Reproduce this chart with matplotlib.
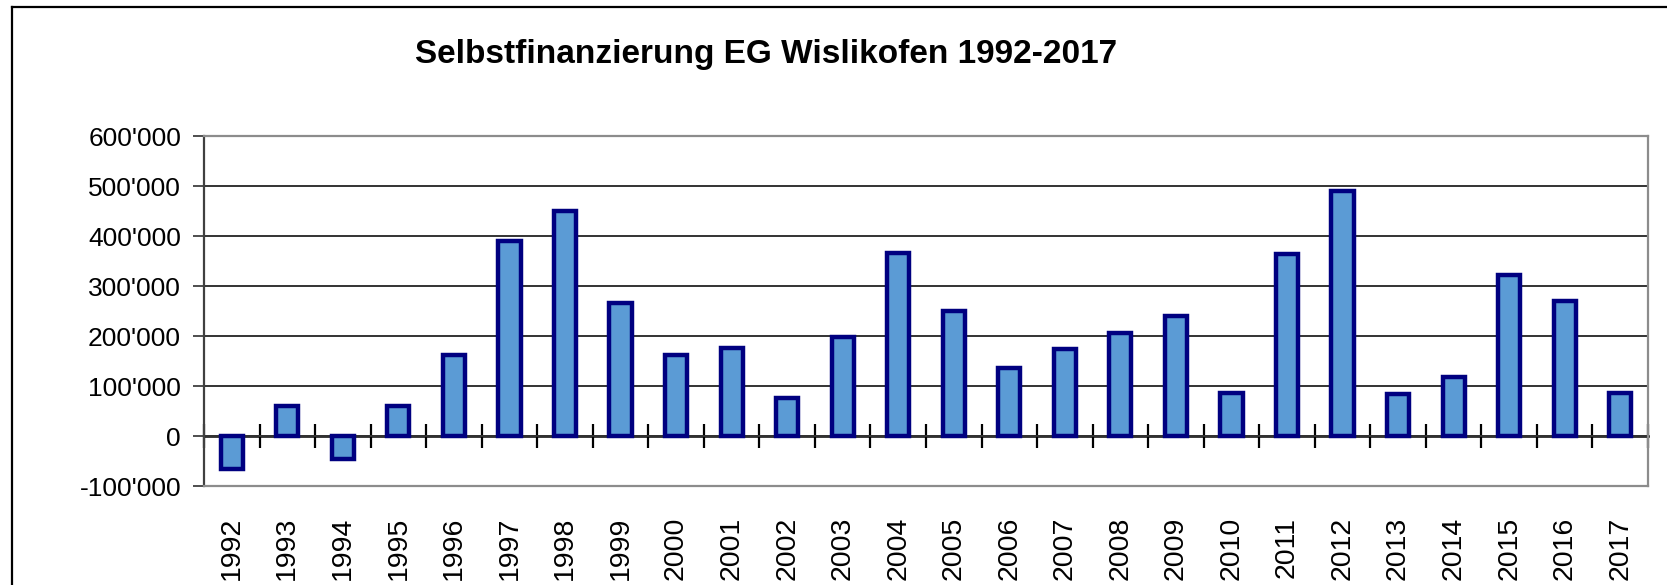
import numpy as np
import matplotlib
matplotlib.use("Agg")
from matplotlib import pyplot as plt
from matplotlib.ticker import FuncFormatter, FixedLocator
from matplotlib.lines import Line2D

plt.rcParams['font.family'] = ['Liberation Sans', 'DejaVu Sans']

years = [str(y) for y in range(1992, 2018)]
values = [-65000, 61000, -45000, 61000, 162000, 391000, 450000, 266000, 162000,
          177000, 77000, 199000, 367000, 250000, 136000, 175000, 206000, 240000,
          86000, 364000, 490000, 84000, 118000, 323000, 270000, 86000]
y_ticks = [-100000, 0, 100000, 200000, 300000, 400000, 500000, 600000]
title = "Selbstfinanzierung EG Wislikofen 1992-2017"

W, H = 1667, 585
fig = plt.figure(figsize=(W / 100, H / 100), dpi=100)
ax = fig.add_axes([204 / W, 1 - 486 / H, (1648 - 204) / W, (486 - 136) / H])

x = np.arange(len(years))
ax.bar(x, values, width=0.4, color="#5b9bd5", edgecolor="#000080",
       linewidth=3.2, zorder=3)

ymin, ymax = y_ticks[0], y_ticks[-1]
ax.set_xlim(-0.5, len(years) - 0.5)
ax.set_ylim(ymin, ymax)

# gridlines
ax.set_yticks(y_ticks)
ax.yaxis.grid(True, color="#333333", linewidth=1.4)
ax.set_axisbelow(True)
ax.yaxis.set_major_formatter(FuncFormatter(lambda v, p: f"{v:,.0f}".replace(",", "'")))
ax.tick_params(axis="y", direction="out", length=8, width=1.3, color="#404040",
               labelsize=19, pad=8.5)

# year labels below the frame
ax.set_xticks(x)
ax.set_xticklabels(years, rotation=90, fontsize=20.5)
ax.tick_params(axis="x", length=0, pad=22)

for side in ["top", "right", "bottom"]:
    ax.spines[side].set_color("#8c8c8c")
    ax.spines[side].set_linewidth(1.6)
ax.spines["left"].set_color("#404040")
ax.spines["left"].set_linewidth(1.6)

# zero axis with category tick marks
zero_loc = (0 - ymin) / (ymax - ymin)
sec = ax.secondary_xaxis(zero_loc)
sec.xaxis.set_major_locator(FixedLocator(np.arange(-0.5, len(years), 1.0)))
sec.tick_params(axis="x", direction="inout", length=17, width=1.6, color="black",
                labelbottom=False, labeltop=False, top=False, bottom=True)
sec.spines["bottom"].set_color("black")
sec.spines["bottom"].set_linewidth(1.8)
for side in ["top", "left", "right"]:
    sec.spines[side].set_visible(False)

fig.text(766 / W, 1 - 55 / H, title, ha="center", va="center",
         fontsize=24, fontweight="bold")

# outer chart frame
fig.add_artist(Line2D([12 / W, 12 / W], [0, 1 - 7 / H], color="black", linewidth=1.6,
                      transform=fig.transFigure))
fig.add_artist(Line2D([12 / W, 1], [1 - 7 / H, 1 - 7 / H], color="black", linewidth=1.6,
                      transform=fig.transFigure))

fig.savefig("out.png", dpi=100)
